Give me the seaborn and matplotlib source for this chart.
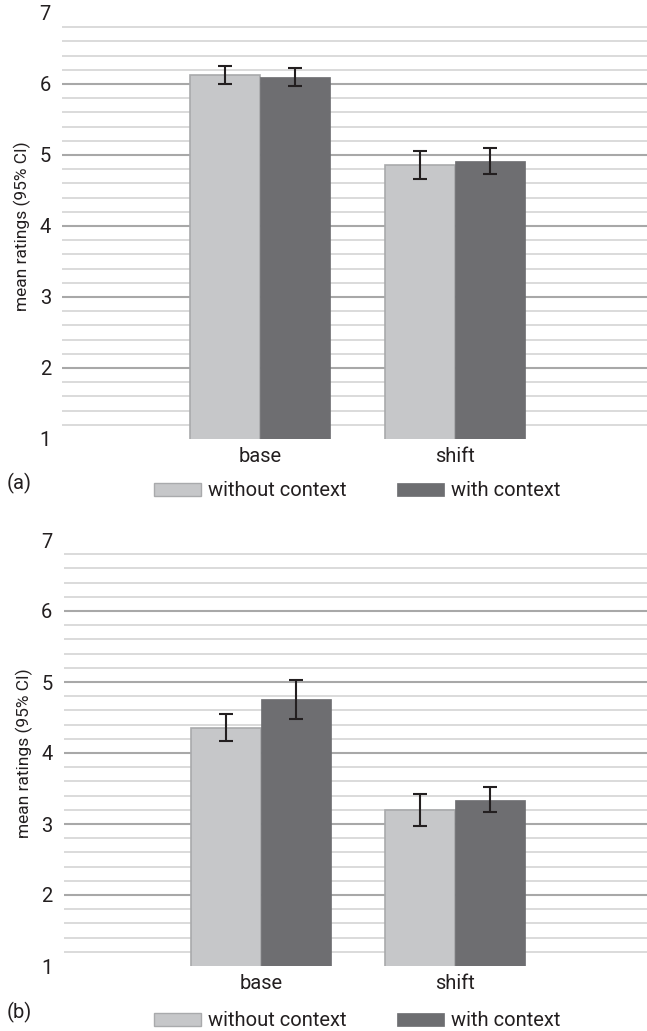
import numpy as np
import pandas as pd
import matplotlib
matplotlib.use("Agg")
import matplotlib.pyplot as plt
import seaborn as sns
from matplotlib.patches import Patch
from matplotlib.ticker import FixedLocator

# ---- data ----
conditions = ["base", "shift"]
groups = ["without context", "with context"]

means_a_without = [6.13, 4.855]
means_a_with = [6.10, 4.915]
ci_a_without = [0.13, 0.20]
ci_a_with = [0.125, 0.185]

means_b_without = [4.355, 3.20]
means_b_with = [4.755, 3.345]
ci_b_without = [0.19, 0.225]
ci_b_with = [0.275, 0.18]

panel_labels = ["(a)", "(b)"]
y_label = "mean ratings (95% CI)"
y_ticks = [1, 2, 3, 4, 5, 6, 7]

light = "#c6c7c9"
light_edge = "#a9aaac"
dark = "#6d6e71"
err_col = "#231f20"

sns.set_theme(style="white")
plt.rcParams["font.family"] = ["Roboto", "DejaVu Sans"]
FS = 14.5

fig = plt.figure(figsize=(6.47, 10.31), dpi=100)
ax_a = fig.add_axes([62 / 647, 1 - 439 / 1031, 1 - 62 / 647, 426 / 1031])
ax_b = fig.add_axes([63.5 / 647, 1 - 966 / 1031, 1 - 63.5 / 647, 426 / 1031])


def draw_panel(ax, m_without, m_with, c_without, c_with, tag, tag_y, leg_y):
    df = pd.DataFrame({
        "condition": conditions * 2,
        "group": [groups[0]] * 2 + [groups[1]] * 2,
        "mean": list(m_without) + list(m_with),
        "ci": list(c_without) + list(c_with),
    })
    sns.barplot(data=df, x="condition", y="mean", hue="group",
                order=conditions, hue_order=groups,
                palette=[light, dark], width=0.72, gap=0,
                errorbar=None, ax=ax, legend=False, zorder=3)
    # light bars get a thin grey outline
    for p in ax.patches:
        fc = p.get_facecolor()
        if fc[0] > 0.6:
            p.set_edgecolor(light_edge)
            p.set_linewidth(1.2)
        else:
            p.set_edgecolor(dark)
            p.set_linewidth(0.5)
    # error bars at the bar centres
    for p, (_, row) in zip(ax.patches, df.iterrows()):
        xc = p.get_x() + p.get_width() / 2
        ax.errorbar(xc, row["mean"], yerr=row["ci"], fmt="none",
                    ecolor=err_col, elinewidth=1.5, capsize=4.8,
                    capthick=1.5, zorder=4)

    ax.set_ylim(1, 7)
    ax.set_xlim(-1.015, 1.985)
    ax.set_yticks(y_ticks)
    ax.set_yticklabels([str(t) for t in y_ticks])
    minor = [round(v, 1) for v in np.arange(1.2, 7.0, 0.2)
             if abs(v - round(v)) > 1e-6]
    ax.yaxis.set_minor_locator(FixedLocator(minor))
    ax.set_axisbelow(True)
    ax.grid(which="major", axis="y", color="#a8a8a8", linewidth=1.5)
    ax.grid(which="minor", axis="y", color="#dadada", linewidth=1.4)
    gl = ax.yaxis.get_gridlines()
    gl[0].set_visible(False)
    gl[-1].set_visible(False)
    ax.grid(False, axis="x")
    for s in ax.spines.values():
        s.set_visible(False)
    ax.tick_params(axis="both", which="both", length=0, labelsize=FS,
                   colors="#231f20")
    ax.tick_params(axis="y", pad=8)
    ax.tick_params(axis="x", pad=6)
    ax.set_xlabel("")
    ax.set_ylabel(y_label, fontsize=12.5, color="#231f20", labelpad=6)

    fig.text(7 / 647, 1 - tag_y / 1031, tag, fontsize=FS, color="#231f20",
             ha="left", va="center")
    handles = [Patch(facecolor=light, edgecolor=light_edge, linewidth=1.0),
               Patch(facecolor=dark, edgecolor=dark, linewidth=0.5)]
    fig.legend(handles, groups, loc="center", ncol=2, frameon=False,
               bbox_to_anchor=(357 / 647, 1 - leg_y / 1031),
               fontsize=FS, handlelength=2.35, handleheight=0.6,
               handletextpad=0.35, columnspacing=2.5, labelcolor="#231f20")


draw_panel(ax_a, means_a_without, means_a_with, ci_a_without, ci_a_with,
           panel_labels[0], 483, 491)
draw_panel(ax_b, means_b_without, means_b_with, ci_b_without, ci_b_with,
           panel_labels[1], 1012, 1021)

fig.savefig("out.png", dpi=100)
